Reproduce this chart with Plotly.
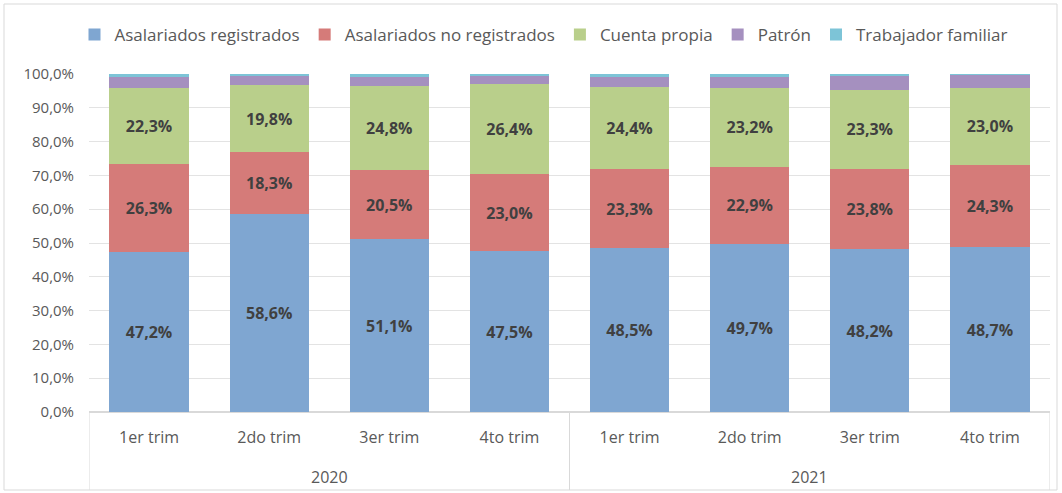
import plotly.graph_objects as go

years = ["2020", "2021"]
quarters = ["1er trim", "2do trim", "3er trim", "4to trim"] * 2
positions = list(range(len(quarters)))

asal_reg = [47.2, 58.6, 51.1, 47.5, 48.5, 49.7, 48.2, 48.7]
asal_noreg = [26.3, 18.3, 20.5, 23.0, 23.3, 22.9, 23.8, 24.3]
cuenta_propia = [22.3, 19.8, 24.8, 26.4, 24.4, 23.2, 23.3, 23.0]
patron = [3.3, 2.6, 2.8, 2.5, 2.9, 3.4, 4.1, 3.8]
trab_familiar = [0.9, 0.7, 0.8, 0.6, 0.9, 0.8, 0.6, 0.2]

series = [
    ("Asalariados registrados", asal_reg, "#7fa6d1", True),
    ("Asalariados no registrados", asal_noreg, "#d57b79", True),
    ("Cuenta propia", cuenta_propia, "#b9cf8b", True),
    ("Patrón", patron, "#a590bf", False),
    ("Trabajador familiar", trab_familiar, "#7dc4d7", False),
]

FONT = "Open Sans"
L, R, T, B = 89, 12, 74, 81
W, H = 1062, 493
PW, PH = W - L - R, H - T - B

def py(pix):
    return (H - B - pix) / PH

def px(pix):
    return (pix - L) / PW

fig = go.Figure()
for name, vals, color, show in series:
    fig.add_trace(go.Bar(
        name=name,
        x=positions,
        y=vals,
        marker=dict(color=color, line=dict(width=0)),
        text=[(f"{v:.1f}%".replace(".", ",")) for v in vals] if show else None,
        textposition="inside" if show else "none",
        insidetextanchor="middle",
        textfont=dict(family=FONT, size=16, color="#404040", weight="bold"),
        hoverinfo="skip",
    ))

n_per_year = len(quarters) // len(years)
shapes = [
    dict(type="rect", xref="paper", yref="paper",
         x0=px(4), x1=px(1057), y0=py(490), y1=py(4),
         line=dict(color="#d9d9d9", width=1), fillcolor="rgba(0,0,0,0)",
         layer="below"),
]
for i in range(len(years) + 1):
    xd = i * n_per_year - 0.5
    shapes.append(dict(type="line", xref="x", yref="paper",
                       x0=xd, x1=xd, y0=0, y1=py(490),
                       line=dict(color="#d9d9d9", width=1)))

annotations = []
for i, yr in enumerate(years):
    annotations.append(dict(
        x=i * n_per_year + (n_per_year - 1) / 2, xref="x",
        y=py(477), yref="paper", yanchor="middle",
        text=yr, showarrow=False,
        font=dict(family=FONT, size=16, color="#595959"),
    ))

fig.update_layout(
    barmode="stack",
    bargap=0.34,
    width=W,
    height=H,
    margin=dict(l=L, r=R, t=T, b=B, autoexpand=False),
    paper_bgcolor="white",
    plot_bgcolor="white",
    font=dict(family=FONT, size=15, color="#595959"),
    legend=dict(
        orientation="h",
        x=px(544), xanchor="center",
        y=py(35), yanchor="middle",
        font=dict(family=FONT, size=17, color="#595959"),
        traceorder="normal",
        itemwidth=30,
    ),
    xaxis=dict(
        range=[-0.5, len(quarters) - 0.5],
        tickmode="array",
        tickvals=positions,
        ticktext=quarters,
        showgrid=False,
        showline=False,
        zeroline=False,
        automargin=False,
        ticks="",
        ticklabelstandoff=14,
        tickfont=dict(family=FONT, size=16, color="#595959"),
    ),
    yaxis=dict(
        range=[0, 100],
        dtick=10,
        tickformat=".1f",
        ticksuffix="%",
        showgrid=True,
        gridcolor="#e3e3e3",
        gridwidth=1,
        zeroline=True,
        zerolinecolor="#d9d9d9",
        automargin=False,
        ticks="",
        ticklabelstandoff=14,
        tickfont=dict(family=FONT, size=15, color="#595959"),
    ),
    separators=",.",
    shapes=shapes,
    annotations=annotations,
)

fig.write_html("out.html", config={"displayModeBar": False},
               post_script="document.body.style.margin='0';")
